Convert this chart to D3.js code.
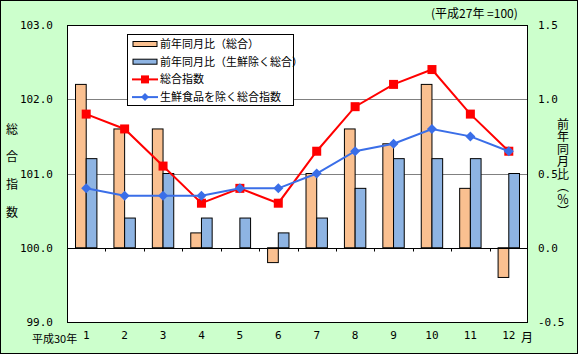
<!DOCTYPE html>
<html>
<head>
<meta charset="utf-8">
<script src="https://cdn.jsdelivr.net/npm/d3@7"></script>
<style>
  body { margin: 0; }
  svg text { font-family: "Noto Sans CJK JP", "DejaVu Sans", sans-serif; fill: #000; }
  .num { font-family: "DejaVu Sans Mono", monospace; }
  .vert { writing-mode: vertical-rl; }
</style>
</head>
<body>
<svg id="chart" width="578" height="354"></svg>
<script>
const months = ['1', '2', '3', '4', '5', '6', '7', '8', '9', '10', '11', '12'];
// 前年同月比 (%), right axis
const yoyAll = [1.1, 0.8, 0.8, 0.1, 0.0, -0.1, 0.5, 0.8, 0.7, 1.1, 0.4, -0.2];
const yoyCore = [0.6, 0.2, 0.5, 0.2, 0.2, 0.1, 0.2, 0.4, 0.6, 0.6, 0.6, 0.5];
// 指数, left axis
const indexAll = [101.8, 101.6, 101.1, 100.6, 100.8, 100.6, 101.3, 101.9, 102.2, 102.4, 101.8, 101.3];
const indexCore = [100.8, 100.7, 100.7, 100.7, 100.8, 100.8, 101.0, 101.3, 101.4, 101.6, 101.5, 101.3];
const leftTicks = [99, 100, 101, 102, 103];
const rightTicks = [-0.5, 0, 0.5, 1.0, 1.5];

const svg = d3.select('#chart');
const W = 578, H = 354;
const plot = { left: 67, right: 528, top: 25, bottom: 322 };

const colOrange = '#FAC090', colBlue = '#8EB4E3', colRed = '#FF0000', colLine = '#3A6EE8';

// background
svg.append('rect').attr('x', 0.5).attr('y', 0.5).attr('width', W - 1).attr('height', H - 1)
  .attr('fill', '#CCFFCC').attr('stroke', '#000');

const x = d3.scaleBand().domain(months).range([plot.left, plot.right]);
const yL = d3.scaleLinear().domain([99, 103]).range([plot.bottom, plot.top]);
const yR = d3.scaleLinear().domain([-0.5, 1.5]).range([plot.bottom, plot.top]);

svg.append('rect').attr('x', plot.left).attr('y', plot.top)
  .attr('width', plot.right - plot.left).attr('height', plot.bottom - plot.top)
  .attr('fill', '#fff');

// gridlines
svg.append('g').selectAll('line').data([101, 102]).join('line')
  .attr('x1', plot.left).attr('x2', plot.right)
  .attr('y1', d => Math.round(yL(d)) + 0.5).attr('y2', d => Math.round(yL(d)) + 0.5)
  .attr('stroke', '#808080');

// bars
const bw = 10.7;
const bars = svg.append('g');
bars.selectAll('.b1').data(yoyAll).join('rect')
  .attr('x', (d, i) => x(months[i]) + x.bandwidth() / 2 - bw)
  .attr('y', d => yR(Math.max(d, 0)))
  .attr('width', bw)
  .attr('height', d => Math.abs(yR(d) - yR(0)))
  .attr('fill', colOrange).attr('stroke', '#000').attr('stroke-width', 1)
  .attr('display', d => d === 0 ? 'none' : null);
bars.selectAll('.b2').data(yoyCore).join('rect')
  .attr('x', (d, i) => x(months[i]) + x.bandwidth() / 2)
  .attr('y', d => yR(Math.max(d, 0)))
  .attr('width', bw)
  .attr('height', d => Math.abs(yR(d) - yR(0)))
  .attr('fill', colBlue).attr('stroke', '#000').attr('stroke-width', 1);

// zero line + ticks
const y0 = Math.round(yR(0)) + 0.5;
svg.append('line').attr('x1', plot.left).attr('x2', plot.right)
  .attr('y1', y0).attr('y2', y0).attr('stroke', '#000');
svg.append('g').selectAll('line').data(months.slice(1)).join('line')
  .attr('x1', d => Math.round(x(d)) + 0.5).attr('x2', d => Math.round(x(d)) + 0.5)
  .attr('y1', y0).attr('y2', y0 + 3).attr('stroke', '#000');

// lines
const cx = (d, i) => x(months[i]) + x.bandwidth() / 2;
const line = d3.line().x(cx).y(d => yL(d));
svg.append('path').datum(indexAll).attr('d', line)
  .attr('fill', 'none').attr('stroke', colRed).attr('stroke-width', 2);
svg.append('g').selectAll('rect').data(indexAll).join('rect')
  .attr('x', (d, i) => cx(d, i) - 4.5).attr('y', d => yL(d) - 4.5)
  .attr('width', 9).attr('height', 9).attr('fill', colRed);

svg.append('path').datum(indexCore).attr('d', line)
  .attr('fill', 'none').attr('stroke', colLine).attr('stroke-width', 2);
svg.append('g').selectAll('path.dm').data(indexCore).join('path')
  .attr('d', (d, i) => {
    const px = cx(d, i), py = yL(d), r = 5;
    return `M${px},${py - r}L${px + r},${py}L${px},${py + r}L${px - r},${py}Z`;
  })
  .attr('fill', colLine);

// plot border
svg.append('rect').attr('x', plot.left + 0.5).attr('y', plot.top + 0.5)
  .attr('width', plot.right - plot.left - 1).attr('height', plot.bottom - plot.top)
  .attr('fill', 'none').attr('stroke', '#000');

// axis labels
svg.append('g').selectAll('text').data(leftTicks).join('text')
  .attr('class', 'num').attr('x', 53).attr('y', d => yL(d) + 4)
  .attr('text-anchor', 'end').attr('font-size', 11)
  .text(d => d.toFixed(1));
svg.append('g').selectAll('text').data(rightTicks).join('text')
  .attr('class', 'num').attr('x', 538).attr('y', d => yR(d) + 4)
  .attr('font-size', 11)
  .text(d => d.toFixed(1));
svg.append('g').selectAll('text').data(months).join('text')
  .attr('class', 'num').attr('x', d => x(d) + x.bandwidth() / 2).attr('y', 339)
  .attr('text-anchor', 'middle').attr('font-size', 11)
  .text(d => d);

svg.append('text').attr('x', 32).attr('y', 343).attr('font-size', 11).text('平成30年');
svg.append('text').attr('x', 521).attr('y', 342).attr('font-size', 12).text('月');
svg.append('text').attr('x', 431).attr('y', 18).attr('font-size', 12).text('(平成27年 =100)');

// vertical titles
svg.append('text').attr('class', 'vert')
  .attr('x', 12).attr('y', 123).attr('font-size', 12)
  .attr('letter-spacing', 15.7)
  .text('総合指数');
svg.append('text').attr('class', 'vert')
  .attr('x', 563).attr('y', 118).attr('font-size', 12)
  .attr('letter-spacing', 0.5)
  .text('前年同月比（％）');

// legend
const lg = svg.append('g');
lg.append('rect').attr('x', 127.5).attr('y', 34.5).attr('width', 166).attr('height', 71)
  .attr('fill', '#fff').attr('stroke', '#000');
const legendItems = [
  { label: '前年同月比（総合）', type: 'bar', color: colOrange },
  { label: '前年同月比（生鮮除く総合）', type: 'bar', color: colBlue },
  { label: '総合指数', type: 'sq', color: colRed },
  { label: '生鮮食品を除く総合指数', type: 'dm', color: colLine }
];
legendItems.forEach((it, i) => {
  const ly = 44 + i * 17.7;
  if (it.type === 'bar') {
    lg.append('rect').attr('x', 133).attr('y', ly - 2.5).attr('width', 24).attr('height', 5)
      .attr('fill', it.color).attr('stroke', '#000');
  } else {
    lg.append('line').attr('x1', 132).attr('x2', 158).attr('y1', ly).attr('y2', ly)
      .attr('stroke', it.color).attr('stroke-width', 2);
    if (it.type === 'sq') {
      lg.append('rect').attr('x', 141).attr('y', ly - 4).attr('width', 8).attr('height', 8).attr('fill', it.color);
    } else {
      lg.append('path').attr('d', `M145,${ly - 4}L149,${ly}L145,${ly + 4}L141,${ly}Z`).attr('fill', it.color);
    }
  }
  lg.append('text').attr('x', 160).attr('y', ly + 4).attr('font-size', 11).text(it.label);
});
</script>
</body>
</html>
